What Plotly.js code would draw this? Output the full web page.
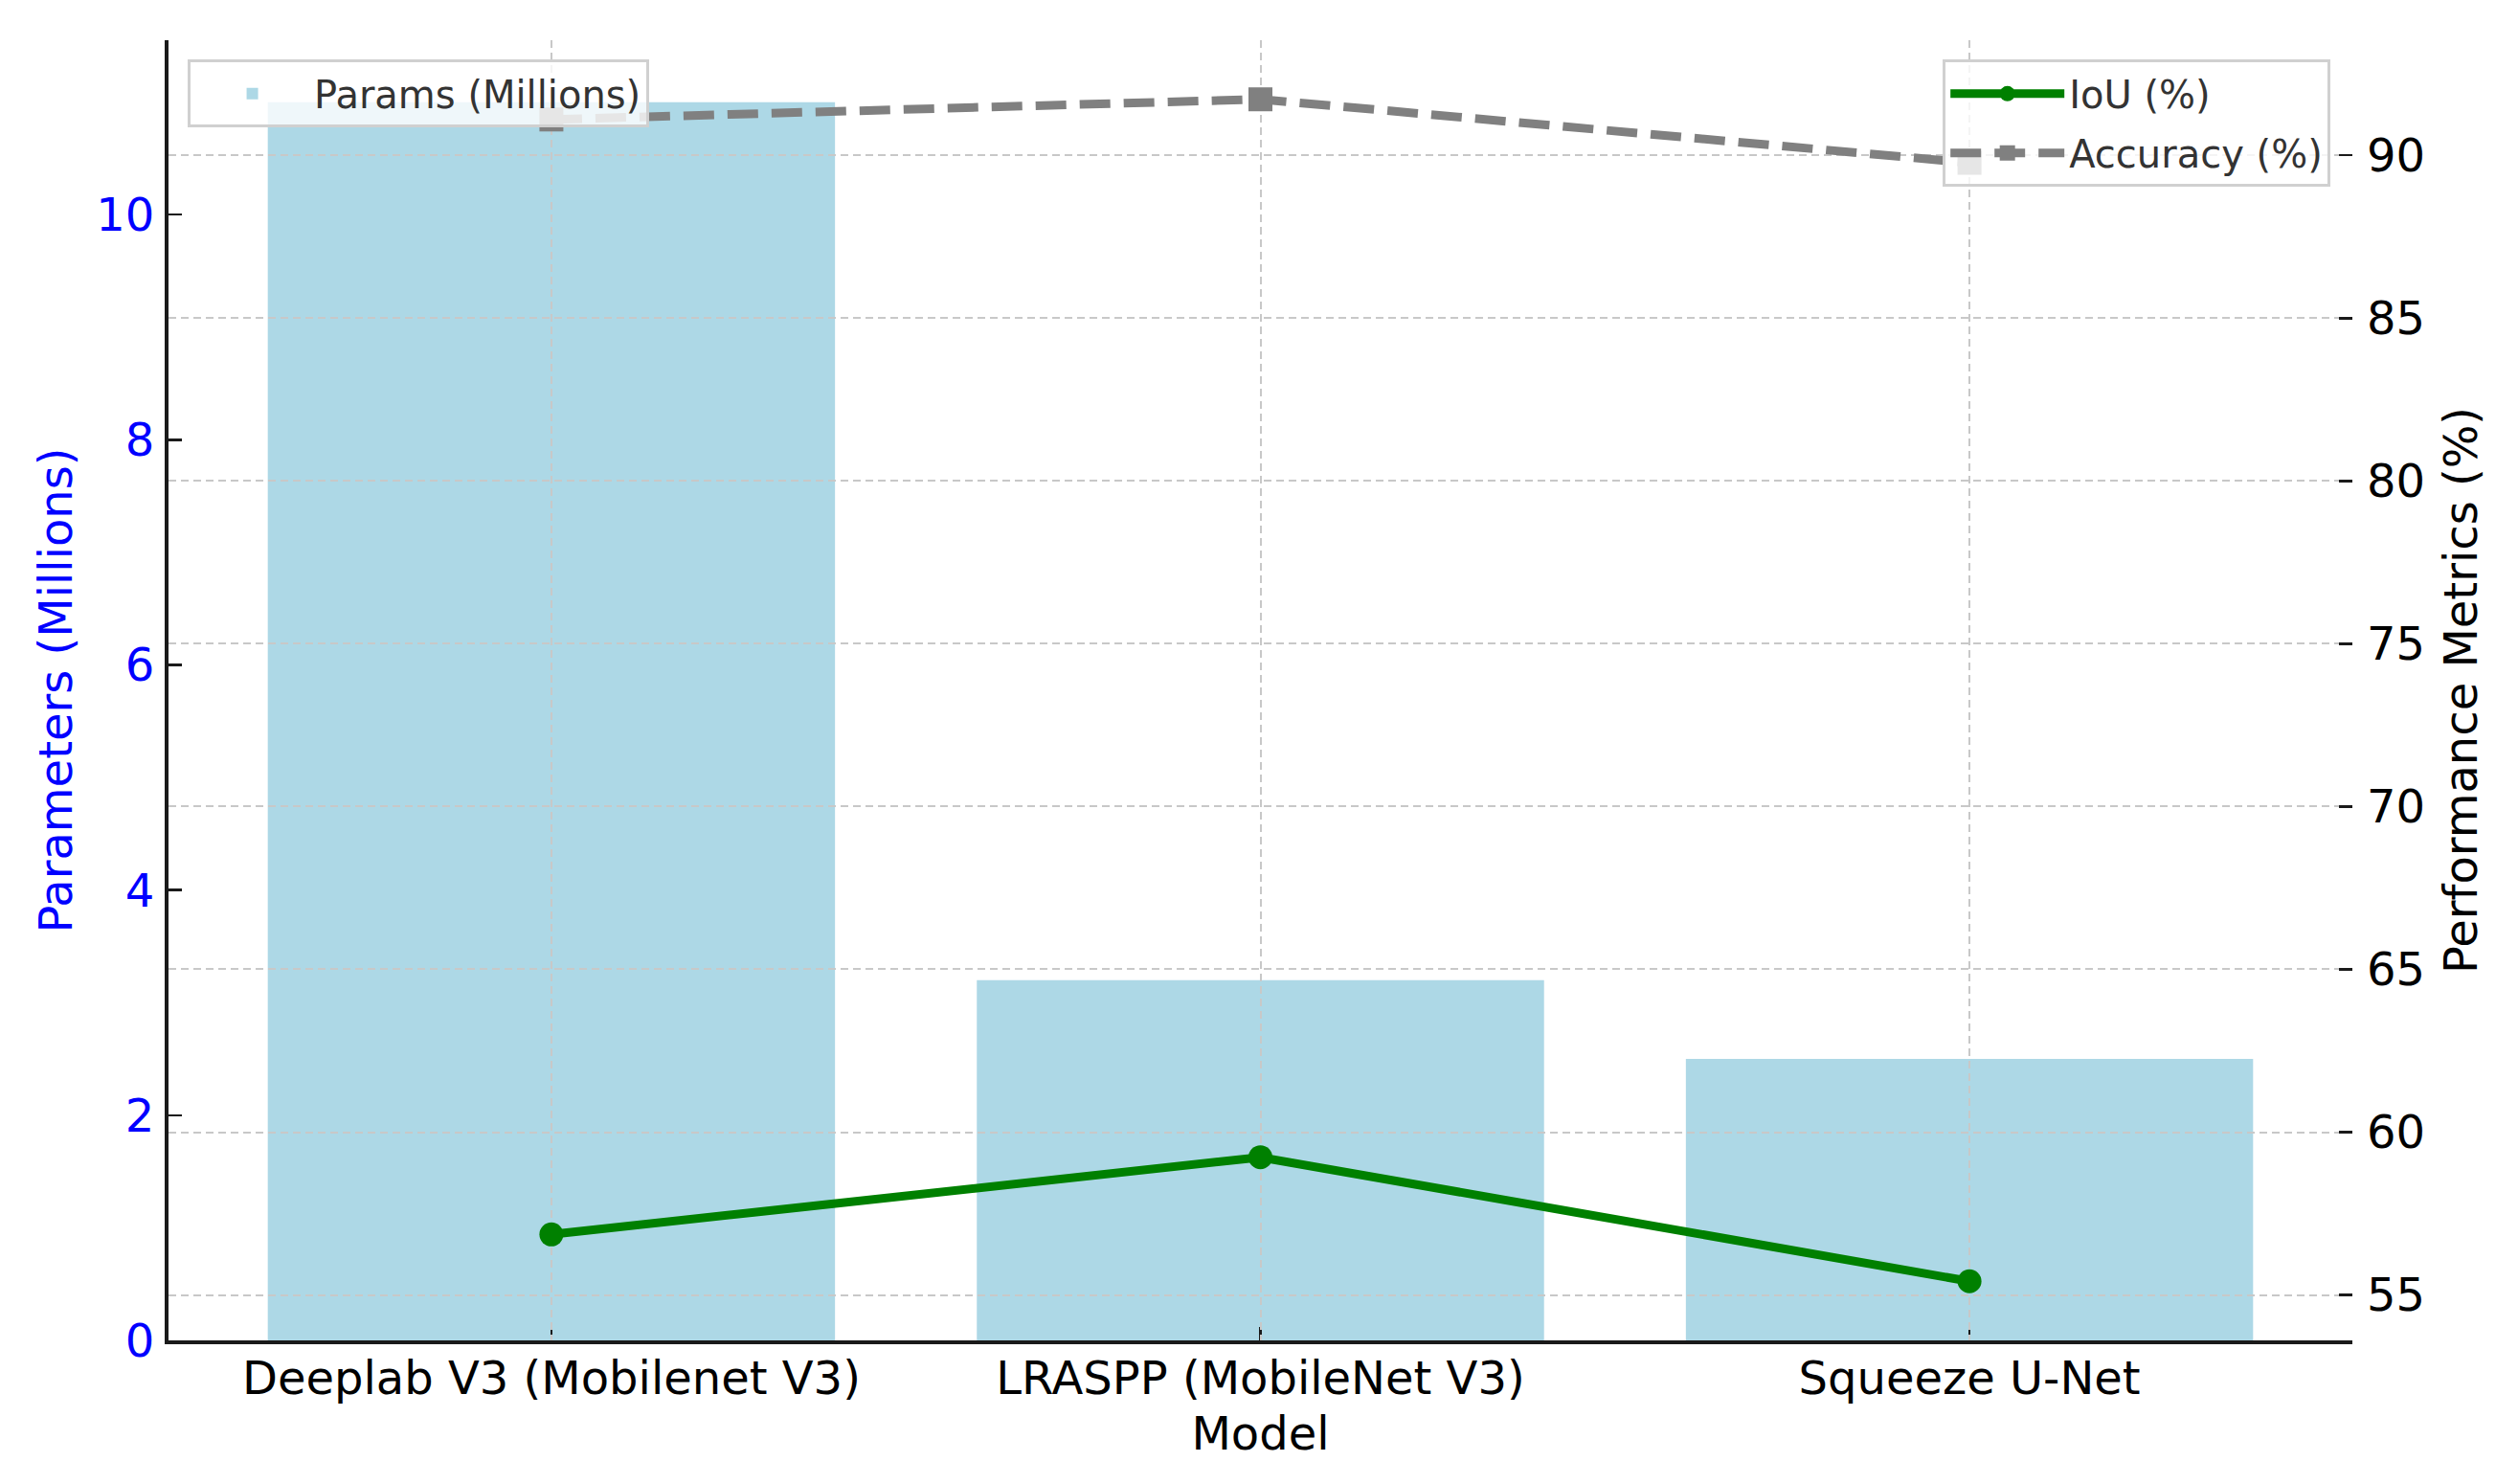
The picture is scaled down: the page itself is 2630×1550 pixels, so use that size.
<!DOCTYPE html>
<html>
<head>
<meta charset="utf-8">
<script src="https://cdn.plot.ly/plotly-3.0.1.min.js"></script>
<style>html,body{margin:0;padding:0;background:#fff;}#chart{width:2630px;height:1550px;}</style>
</head>
<body>
<div id="chart"></div>
<script>
const models = ["Deeplab V3 (Mobilenet V3)", "LRASPP (MobileNet V3)", "Squeeze U-Net"];
const paramsMillions = [11.0, 3.2, 2.5];
const iouPct = [56.86, 59.23, 55.42];
const accuracyPct = [91.10, 91.72, 89.77];
const leftTicks = [0, 2, 4, 6, 8, 10];
const rightTicks = [55, 60, 65, 70, 75, 80, 85, 90];

const FONT = "DejaVu Sans";
const gridColor = "#c8c8c8";
const gridDash = "8px,5px";

// matplotlib-like 5% margins
const pMax = Math.max(...paramsMillions);
const leftRange = [0, pMax * 1.05];
const allPerf = iouPct.concat(accuracyPct);
const perfMin = Math.min(...allPerf), perfMax = Math.max(...allPerf);
const perfPad = (perfMax - perfMin) * 0.05;
const rightRange = [perfMin - perfPad, perfMax + perfPad];
const xRange = [-0.54, models.length - 1 + 0.54];

const traces = [
  {
    type: "bar", x: models, y: paramsMillions, name: "Params (Millions)",
    xaxis: "x", yaxis: "y", legend: "legend",
    marker: {color: "#ADD8E6", line: {width: 0}}, width: 0.8,
    hoverinfo: "skip"
  },
  {
    type: "scatter", mode: "lines+markers", x: models, y: iouPct, name: "IoU (%)",
    xaxis: "x2", yaxis: "y3", legend: "legend2", legendgroup: "iou",
    line: {color: "#008000", width: 9},
    marker: {symbol: "circle", size: 25, color: "#008000"}
  },
  {
    type: "scatter", mode: "lines+markers", x: models, y: accuracyPct, name: "Accuracy (%)",
    xaxis: "x2", yaxis: "y3", legend: "legend2", legendgroup: "acc",
    line: {color: "#808080", width: 9, dash: "32px,14px"},
    marker: {symbol: "square", size: 25, color: "#808080"}
  }
];

const baseFont = {family: FONT, size: 48, color: "#000"};

const layout = {
  width: 2630, height: 1550,
  margin: {l: 176, r: 173, t: 42, b: 150},
  paper_bgcolor: "#fff", plot_bgcolor: "rgba(0,0,0,0)",
  font: {family: FONT, size: 48, color: "#000"},
  showlegend: true,
  bargap: 0.2,
  xaxis: {
    type: "category", domain: [0, 1], anchor: "y", range: xRange,
    categoryorder: "array", categoryarray: models,
    showgrid: false, zeroline: false,
    showline: true, linecolor: "#1a1a1a", linewidth: 4,
    ticks: "inside", ticklen: 14, tickwidth: 2.5, tickcolor: "#1a1a1a",
    tickfont: baseFont, ticklabelstandoff: -6,
    title: {text: "Model", font: baseFont, standoff: 16}
  },
  yaxis: {
    domain: [0, 1], anchor: "x", range: leftRange,
    tickvals: leftTicks, ticktext: leftTicks.map(String),
    showgrid: false, zeroline: false,
    showline: true, linecolor: "#1a1a1a", linewidth: 4,
    ticks: "inside", ticklen: 14, tickwidth: 2.5, tickcolor: "#1a1a1a",
    tickfont: {family: FONT, size: 48, color: "#0000ff"}, ticklabelstandoff: 1,
    title: {text: "Parameters (Millions)", font: {family: FONT, size: 48, color: "#0000ff"}, standoff: 11}
  },
  xaxis2: {
    type: "category", domain: [0, 1], anchor: "y2", range: xRange,
    categoryorder: "array", categoryarray: models,
    showgrid: true, gridcolor: gridColor, gridwidth: 2, griddash: gridDash,
    zeroline: false, showline: false, ticks: "", showticklabels: false
  },
  yaxis2: {
    domain: [0, 1], anchor: "x2", range: leftRange,
    tickvals: leftTicks,
    showgrid: true, gridcolor: gridColor, gridwidth: 2, griddash: gridDash,
    zeroline: false, showline: false, ticks: "", showticklabels: false
  },
  yaxis3: {
    overlaying: "y2", side: "right", anchor: "x2", range: rightRange,
    tickvals: rightTicks, ticktext: rightTicks.map(String),
    showgrid: true, gridcolor: gridColor, gridwidth: 2, griddash: gridDash,
    zeroline: false, showline: false,
    ticks: "inside", ticklen: 14, tickwidth: 2.5, tickcolor: "#1a1a1a",
    tickfont: baseFont, ticklabelstandoff: 14,
    title: {text: "Performance Metrics (%)", font: baseFont, standoff: 21}
  },
  legend: {
    x: 0.0088, y: 0.985, xanchor: "left", yanchor: "top",
    bgcolor: "rgba(255,255,255,0.8)", bordercolor: "#d0d0d0", borderwidth: 3,
    font: {family: FONT, size: 40, color: "#333"}, itemwidth: 119
  },
  legend2: {
    x: 0.990, y: 0.985, xanchor: "right", yanchor: "top",
    bgcolor: "rgba(255,255,255,0.8)", bordercolor: "#d0d0d0", borderwidth: 3,
    font: {family: FONT, size: 40, color: "#333"}, itemwidth: 119, tracegroupgap: 7
  }
};

Plotly.newPlot("chart", traces, layout, {staticPlot: true, displayModeBar: false});
</script>
</body>
</html>
